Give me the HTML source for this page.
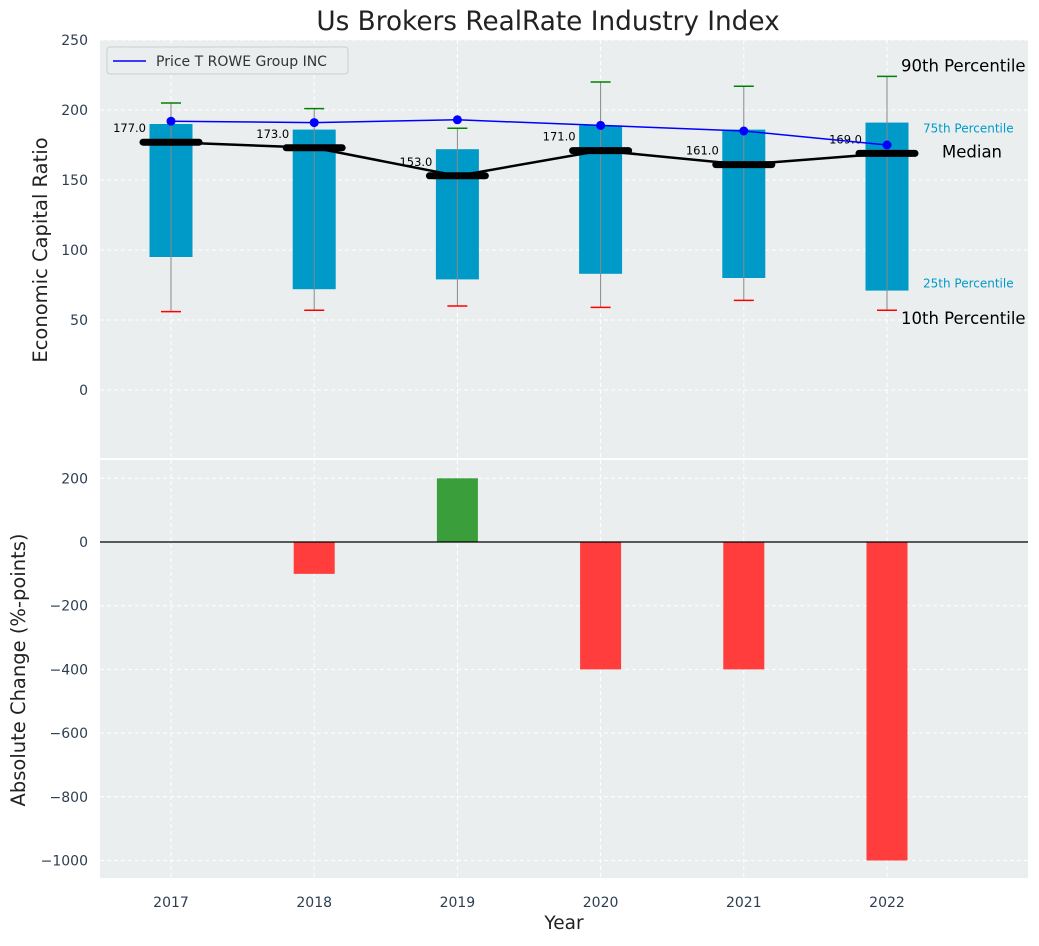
<!DOCTYPE html>
<html><head><meta charset="utf-8"><style>
body{margin:0;background:#fff;font-family:"DejaVu Sans","Liberation Sans",sans-serif}
svg text{font-family:"DejaVu Sans","Liberation Sans",sans-serif}
</style></head><body>
<svg id="c" width="1039" height="942" xmlns="http://www.w3.org/2000/svg"></svg>
<script>
const years=[2017,2018,2019,2020,2021,2022];
const p10=[56,57,60,59,64,57];
const p25=[95,72,79,83,80,71];
const median=[177,173,153,171,161,169];
const p75=[190,186,172,189,186,191];
const p90=[205,201,187,220,217,224];
const company=[192,191,193,189,185,175];
const change=[0,-100,200,-400,-400,-1000];
const topTicks=[0,50,100,150,200,250];
const botTicks=[200,0,-200,-400,-600,-800,-1000];

const NS="http://www.w3.org/2000/svg";
const svg=document.getElementById('c');
function el(t,a,p){const e=document.createElementNS(NS,t);for(const k in a)e.setAttribute(k,a[k]);(p||svg).appendChild(e);return e;}
function txt(x,y,s,a,p){const e=el('text',Object.assign({x:x,y:y},a||{}),p);e.textContent=s;return e;}
const L=100,R=1028;
const x=i=>171+(years[i]-2017)*143.2;
const yT=v=>390-v*1.4;
const yB=v=>542-v*0.3185;
const bgT=el('rect',{x:L,y:40,width:R-L,height:418,fill:'#eaeeef'});

const bgB=el('rect',{x:L,y:460,width:R-L,height:418,fill:'#eaeeef'});

topTicks.forEach(v=>{el('line',{x1:L,x2:R,y1:yT(v),y2:yT(v),stroke:'#fff','stroke-dasharray':'4,3'});
 const t=txt(88,yT(v)+5,v,{'font-size':14,'text-anchor':'end',fill:'#2c3e50'});});
botTicks.forEach(v=>{el('line',{x1:L,x2:R,y1:yB(v),y2:yB(v),stroke:'#fff','stroke-dasharray':'4,3'});
 const t=txt(88,yB(v)+5,v<0?'\u2212'+(-v):v,{'font-size':14,'text-anchor':'end',fill:'#2c3e50'});});
years.forEach((yr,i)=>{el('line',{x1:x(i),x2:x(i),y1:40,y2:458,stroke:'#fff','stroke-dasharray':'4,3'});
 el('line',{x1:x(i),x2:x(i),y1:460,y2:878,stroke:'#fff','stroke-dasharray':'4,3'});
 const t=txt(x(i),907,yr,{'font-size':14,'text-anchor':'middle',fill:'#2c3e50'});});
years.forEach((yr,i)=>{
 const b=el('rect',{x:x(i)-21.5,y:yT(p75[i]),width:43,height:yT(p25[i])-yT(p75[i]),fill:'#009ac9'});
 
 el('line',{x1:x(i),x2:x(i),y1:yT(p10[i]),y2:yT(p90[i]),stroke:'#888','stroke-width':1});
 const c1=el('line',{x1:x(i)-10,x2:x(i)+10,y1:yT(p10[i]),y2:yT(p10[i]),stroke:'red','stroke-width':1.5});
 
 const c2=el('line',{x1:x(i)-10,x2:x(i)+10,y1:yT(p90[i]),y2:yT(p90[i]),stroke:'green','stroke-width':1.5});
 
});
const mp=years.map((y,i)=>x(i)+','+yT(median[i])).join(' ');
const ml=el('polyline',{points:mp,fill:'none',stroke:'#000','stroke-width':2.5});

years.forEach((yr,i)=>{
 const m=el('line',{x1:x(i)-28,x2:x(i)+28,y1:yT(median[i]),y2:yT(median[i]),stroke:'#000','stroke-width':7,'stroke-linecap':'round'});
 
 const t=txt(x(i)-25,yT(median[i])-10,median[i].toFixed(1),{'font-size':11.5,'text-anchor':'end',fill:'#000'});
 
});
const cp=years.map((y,i)=>x(i)+','+yT(company[i])).join(' ');
const cl=el('polyline',{points:cp,fill:'none',stroke:'blue','stroke-width':1.5});

years.forEach((yr,i)=>{const d=el('circle',{cx:x(i),cy:yT(company[i]),r:4.5,fill:'blue'});});
const li=years.length-1,ax=x(li)+14;
[['p90-annotation','90th Percentile',yT(p90[li])-5,16.5,'#000',ax],
 ['p75-annotation','75th Percentile',yT(p75[li])+10,12,'#009ac9',ax+22],
 ['median-annotation','Median',yT(median[li])+4,16.5,'#000',ax+41],
 ['p25-annotation','25th Percentile',yT(p25[li])-3,12,'#009ac9',ax+22],
 ['p10-annotation','10th Percentile',yT(p10[li])+14,16.5,'#000',ax]].forEach(a=>{
 const t=txt(a[5],a[2],a[1],{'font-size':a[3],fill:a[4]});});
const lg=el('g',{});
el('rect',{x:107,y:47,width:241,height:27,fill:'#eaeeef',stroke:'#ccc',rx:3},lg);
el('line',{x1:113,x2:146,y1:61,y2:61,stroke:'blue','stroke-width':1.5},lg);
txt(156,66,'Price T ROWE Group INC',{'font-size':14,fill:'#333'},lg);
years.forEach((yr,i)=>{const v=change[i];if(v===0)return;
 const b=el('rect',{x:x(i)-20.5,y:Math.min(yB(v),yB(0)),width:41,height:Math.abs(yB(v)-yB(0)),fill:v>0?'#3a9e3a':'#ff3d3d'});
 });
const zl=el('line',{x1:L,x2:R,y1:yB(0),y2:yB(0),stroke:'#000','stroke-width':1.2});

let t=txt(548,30,'Us Brokers RealRate Industry Index',{'font-size':26.3,'text-anchor':'middle',fill:'#222'});
t=txt(0,0,'Economic Capital Ratio',{'font-size':19.5,'text-anchor':'middle',fill:'#222',transform:'translate(47,250) rotate(-90)'});
t=txt(0,0,'Absolute Change (%-points)',{'font-size':19.5,'text-anchor':'middle',fill:'#222',transform:'translate(25,670) rotate(-90)'});
t=txt(564,929,'Year',{'font-size':18.5,'text-anchor':'middle',fill:'#222'});
</script></body></html>
